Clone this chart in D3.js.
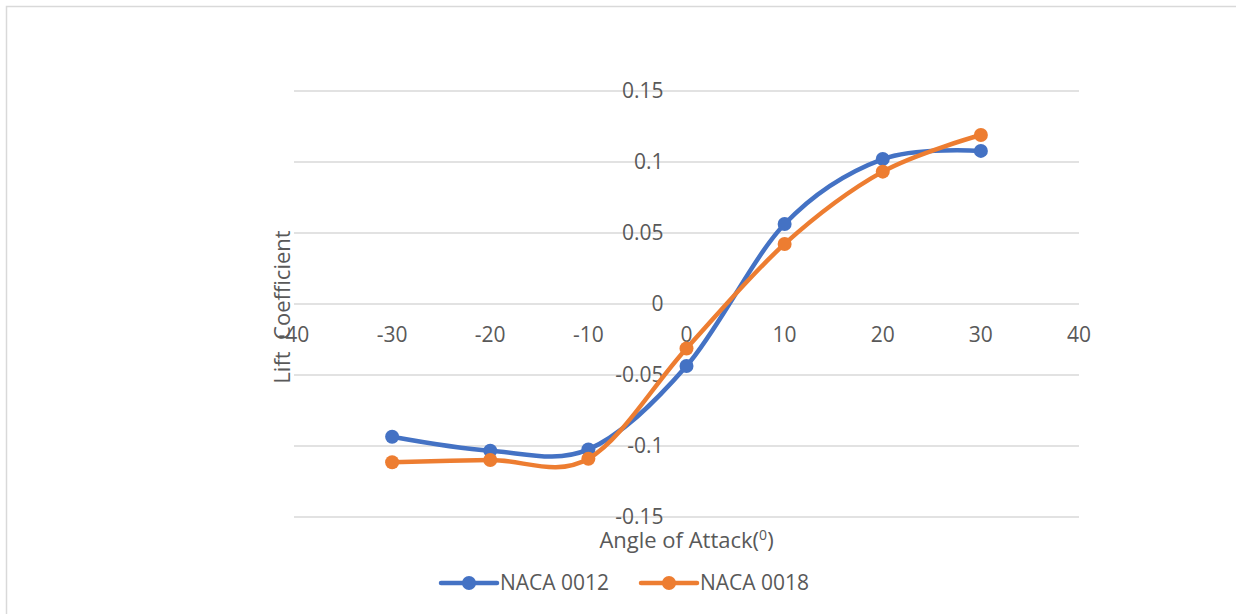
<!DOCTYPE html>
<html>
<head>
<meta charset="utf-8">
<script src="https://cdn.jsdelivr.net/npm/d3@7"></script>
<style>
  html, body { margin: 0; padding: 0; background: #fff; }
  svg { display: block; }
  text { font-family: "Open Sans", "Liberation Sans", sans-serif; fill: #595959; }
</style>
</head>
<body>
<svg id="chart" width="1236" height="614"></svg>
<script>
// Angle of attack (degrees) and lift coefficients for two airfoils
const angles = [-30, -20, -10, 0, 10, 20, 30];
const naca0012 = [-0.0935, -0.1033, -0.1024, -0.0437, 0.0563, 0.1021, 0.1078];
const naca0018 = [-0.1114, -0.1099, -0.1090, -0.0313, 0.0423, 0.0932, 0.1190];
const xTicks = [-40, -30, -20, -10, 0, 10, 20, 30, 40];
const yTicks = [-0.15, -0.1, -0.05, 0, 0.05, 0.1, 0.15];
const seriesNames = ["NACA 0012", "NACA 0018"];
const seriesColors = ["#4472c4", "#ed7d31"];

const svg = d3.select("#chart");

// outer chart frame
svg.append("rect")
  .attr("x", 6.5).attr("y", 6.5)
  .attr("width", 1260).attr("height", 640)
  .attr("fill", "none").attr("stroke", "#d9d9d9").attr("stroke-width", 1.5);

const x = d3.scaleLinear().domain([-40, 40]).range([294, 1079]);
const y = d3.scaleLinear().domain([-0.15, 0.15]).range([517, 91]);

// horizontal gridlines
svg.append("g")
  .selectAll("line")
  .data(yTicks)
  .join("line")
  .attr("x1", x(-40)).attr("x2", x(40))
  .attr("y1", d => y(d)).attr("y2", d => y(d))
  .attr("stroke", "#d9d9d9").attr("stroke-width", 1.5);

// y tick labels, next to the vertical axis at x = 0
const yFmt = d => d === 0 ? "0" : String(+d.toFixed(2));
svg.append("g")
  .selectAll("text")
  .data(yTicks)
  .join("text")
  .attr("x", x(0) - 23)
  .attr("y", d => y(d))
  .attr("dy", "0.35em")
  .attr("text-anchor", "end")
  .attr("font-size", 21)
  .text(yFmt);

// x tick labels, below the horizontal axis at y = 0
svg.append("g")
  .selectAll("text")
  .data(xTicks)
  .join("text")
  .attr("x", d => x(d))
  .attr("y", y(0) + 31)
  .attr("dy", "0.35em")
  .attr("text-anchor", "middle")
  .attr("font-size", 21)
  .text(d => d);

// axis titles
const xt = svg.append("text")
  .attr("x", x(0))
  .attr("y", 548)
  .attr("text-anchor", "middle")
  .attr("font-size", 22);
xt.append("tspan").text("Angle of Attack(");
xt.append("tspan").attr("dy", -8).attr("font-size", 14).text("0");
xt.append("tspan").attr("dy", 8).text(")");

svg.append("text")
  .attr("transform", `translate(290, ${y(0) + 3}) rotate(-90)`)
  .attr("text-anchor", "middle")
  .attr("font-size", 22)
  .attr("xml:space", "preserve")
  .style("white-space", "pre")
  .text("Lift  Coefficient");

// smoothed series lines with markers
const line = d3.line()
  .x(d => x(d[0]))
  .y(d => y(d[1]))
  .curve(d3.curveCardinal.tension(0));

[naca0012, naca0018].forEach((vals, i) => {
  const pts = angles.map((a, j) => [a, vals[j]]);
  const g = svg.append("g");
  g.append("path")
    .datum(pts)
    .attr("d", line)
    .attr("fill", "none")
    .attr("stroke", seriesColors[i])
    .attr("stroke-width", 4.5)
    .attr("stroke-linecap", "round");
  g.selectAll("circle")
    .data(pts)
    .join("circle")
    .attr("cx", d => x(d[0]))
    .attr("cy", d => y(d[1]))
    .attr("r", 7)
    .attr("fill", seriesColors[i]);
});

// legend
const legendX = [441, 641];
seriesNames.forEach((name, i) => {
  const g = svg.append("g").attr("transform", `translate(${legendX[i]}, 583)`);
  g.append("line")
    .attr("x1", 0).attr("x2", 56)
    .attr("stroke", seriesColors[i]).attr("stroke-width", 4.5)
    .attr("stroke-linecap", "round");
  g.append("circle").attr("cx", 28).attr("r", 7).attr("fill", seriesColors[i]);
  g.append("text")
    .attr("x", 59).attr("dy", "0.35em")
    .attr("font-size", 21)
    .text(name);
});
</script>
</body>
</html>
